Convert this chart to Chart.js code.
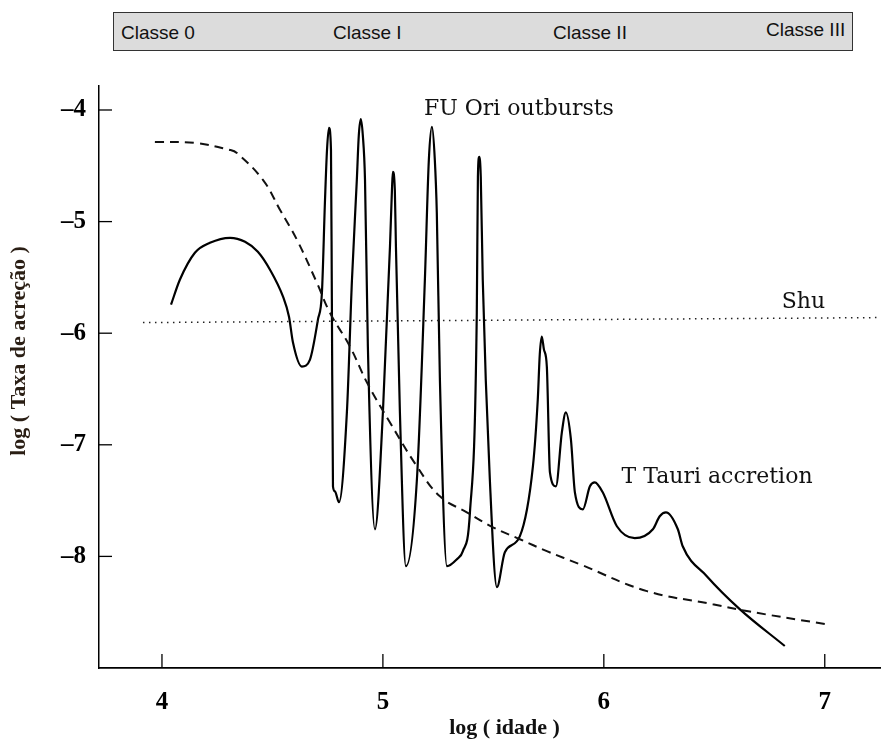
<!DOCTYPE html>
<html>
<head>
<meta charset="utf-8">
<script src="https://cdn.jsdelivr.net/npm/chart.js@4.4.1/dist/chart.umd.min.js"></script>
<style>
    body { margin: 0; background: #fff; }
    #wrap { position: relative; width: 882px; height: 740px; }
    #classes {
        position: absolute; left: 113px; top: 12px; width: 738px; height: 37px;
        background: #dcdcdc; border: 1.5px solid #333;
        font-family: "Liberation Sans", Arial, sans-serif; font-size: 19px; color: #111;
    }
    #classes span { position: absolute; top: 9px; }
</style>
</head>
<body>
<div id="wrap">
    <canvas id="grafico" width="882" height="740"></canvas>
    <div id="classes"></div>
</div>
<script>
// Classes (faixa de cima) e posição horizontal do texto na faixa
var classes = ["Classe 0", "Classe I", "Classe II", "Classe III"];
var classesPos = [7, 219, 439, 652];

// Curva tracejada (modelo)
var idadeTracejada = [3.968, 4.149, 4.308, 4.339, 4.457, 4.534, 4.611, 4.701, 4.760, 4.851, 4.928, 5.032, 5.154, 5.258, 5.380, 5.498, 5.620, 5.742, 5.891, 6.195, 6.493, 6.647, 7.000];
var taxaTracejada = [-4.286, -4.295, -4.358, -4.385, -4.626, -4.894, -5.163, -5.547, -5.816, -6.120, -6.442, -6.800, -7.193, -7.462, -7.605, -7.739, -7.846, -7.953, -8.070, -8.311, -8.428, -8.490, -8.606];

// Curva sólida (FU Ori + T Tauri)
var idadeSolida = [4.041, 4.081, 4.149, 4.217, 4.308, 4.376, 4.434, 4.489, 4.548, 4.575, 4.593, 4.633, 4.670, 4.706, 4.724, 4.738, 4.747, 4.756, 4.765, 4.769, 4.774, 4.783, 4.801,
    4.837, 4.860, 4.882, 4.891, 4.900, 4.909, 4.919, 4.932, 4.964,
    5.000, 5.032, 5.041, 5.045, 5.054, 5.059, 5.077, 5.104,
    5.154, 5.190, 5.208, 5.222, 5.235, 5.244, 5.258, 5.290, 5.335, 5.362,
    5.394, 5.425, 5.430, 5.436, 5.443, 5.452, 5.484, 5.516,
    5.552, 5.620, 5.679, 5.701, 5.710, 5.719, 5.729, 5.742, 5.756, 5.783, 5.810, 5.828, 5.851, 5.869, 5.905, 5.937, 5.959, 5.995,
    6.059, 6.140, 6.222, 6.253, 6.281, 6.335, 6.357, 6.466, 6.615, 6.819];
var taxaSolida = [-5.744, -5.521, -5.279, -5.190, -5.145, -5.181, -5.270, -5.431, -5.673, -5.852, -6.084, -6.299, -6.236, -5.878, -5.637, -4.805, -4.358, -4.161, -4.358, -5.699, -7.372, -7.417, -7.515,
    -6.710, -5.521, -4.626, -4.224, -4.081, -4.224, -4.626, -6.120, -7.757,
    -6.710, -5.225, -4.716, -4.555, -4.716, -5.225, -6.710, -8.088,
    -7.309, -5.521, -4.447, -4.152, -4.447, -4.921, -6.415, -8.088, -8.025, -7.953,
    -7.605, -5.816, -4.600, -4.420, -4.600, -5.521, -7.309, -8.275,
    -7.962, -7.819, -7.193, -6.594, -6.191, -6.030, -6.147, -6.299, -7.247, -7.372, -6.889, -6.710, -6.952, -7.426, -7.578, -7.372, -7.336, -7.426,
    -7.730, -7.837, -7.757, -7.640, -7.605, -7.757, -7.909, -8.177, -8.472, -8.803];

// Linha pontilhada (Shu)
var idadeShu = [3.914, 7.25];
var taxaShu = [-5.905, -5.86];

// Marcas dos eixos
var ticksX = [4, 5, 6, 7];
var ticksY = [-4, -5, -6, -7, -8];

// Textos dentro do gráfico: [texto, idade, taxa]
var anotacoes = [
    ["FU Ori outbursts", 5.186, -4.045],
    ["Shu", 6.805, -5.77],
    ["T Tauri accretion", 6.08, -7.34]
];

function pares(xs, ys) {
    return xs.map(function (x, i) { return { x: x, y: ys[i] }; });
}

// Faixa das classes
var faixa = document.getElementById("classes");
classes.forEach(function (nome, i) {
    var s = document.createElement("span");
    s.textContent = nome;
    s.style.left = classesPos[i] + "px";
    if (i === 3) s.style.top = "6px";
    faixa.appendChild(s);
});

// Plugin: marcas para dentro, anotações e títulos dos eixos
var extras = {
    id: "extras",
    afterDraw: function (chart) {
        var ctx = chart.ctx;
        var sx = chart.scales.x, sy = chart.scales.y;
        var area = chart.chartArea;
        ctx.save();
        ctx.strokeStyle = "#000";
        ctx.lineWidth = 1.3;
        ticksX.forEach(function (v) {
            var px = sx.getPixelForValue(v);
            ctx.beginPath();
            ctx.moveTo(px, area.bottom);
            ctx.lineTo(px, area.bottom - 14);
            ctx.stroke();
        });
        ticksY.forEach(function (v) {
            var py = sy.getPixelForValue(v);
            ctx.beginPath();
            ctx.moveTo(area.left, py);
            ctx.lineTo(area.left + 13, py);
            ctx.stroke();
        });

        ctx.fillStyle = "#111";
        ctx.font = '22px "DejaVu Serif", serif';
        ctx.textAlign = "left";
        ctx.textBaseline = "alphabetic";
        anotacoes.forEach(function (a) {
            ctx.fillText(a[0], sx.getPixelForValue(a[1]), sy.getPixelForValue(a[2]));
        });

        ctx.font = 'bold 22px "Liberation Serif", serif';
        ctx.textAlign = "center";
        ctx.textBaseline = "middle";
        ctx.fillText("log ( idade )", (area.left + area.right) / 2 + 15, 728);
        ctx.translate(19, (area.top + area.bottom) / 2 - 26);
        ctx.rotate(-Math.PI / 2);
        ctx.fillStyle = "#2a1e14";
        ctx.fillText("log ( Taxa de acreção )", 0, 0);
        ctx.restore();
    }
};

var ctx = document.getElementById("grafico").getContext("2d");
var grafico = new Chart(ctx, {
    type: "line",
    data: {
        datasets: [{
            label: "Shu",
            data: pares(idadeShu, taxaShu),
            borderColor: "#222",
            borderWidth: 1.5,
            borderDash: [1.5, 4.5],
            pointRadius: 0
        }, {
            label: "Modelo",
            data: pares(idadeTracejada, taxaTracejada),
            borderColor: "#111",
            borderWidth: 2,
            borderDash: [9, 6],
            pointRadius: 0,
            tension: 0.4
        }, {
            label: "Acreção",
            data: pares(idadeSolida, taxaSolida),
            borderColor: "#000",
            borderWidth: 2.2,
            pointRadius: 0,
            cubicInterpolationMode: "monotone"
        }]
    },
    options: {
        responsive: false,
        animation: false,
        layout: { padding: { top: 86, right: 2, left: 0, bottom: 0 } },
        plugins: { legend: { display: false }, tooltip: { enabled: false } },
        scales: {
            x: {
                type: "linear",
                min: 3.715,
                max: 7.25,
                afterBuildTicks: function (s) { s.ticks = ticksX.map(function (v) { return { value: v }; }); },
                afterFit: function (s) { s.height = 72; },
                grid: { display: false, drawTicks: false },
                border: { display: true, color: "#000", width: 1.8 },
                ticks: {
                    padding: 20,
                    color: "#000",
                    font: { family: "Liberation Serif", size: 25, weight: "bold" }
                }
            },
            y: {
                type: "linear",
                min: -9,
                max: -3.785,
                afterBuildTicks: function (s) { s.ticks = ticksY.map(function (v) { return { value: v }; }); },
                afterFit: function (s) { s.width = 99; },
                grid: { display: false, drawTicks: false },
                border: { display: true, color: "#000", width: 1.5 },
                ticks: {
                    padding: 13,
                    color: "#000",
                    font: { family: "Liberation Serif", size: 25, weight: "bold" },
                    callback: function (v) { return "\u2013" + Math.abs(v); }
                }
            }
        }
    },
    plugins: [extras]
});
</script>
</body>
</html>
